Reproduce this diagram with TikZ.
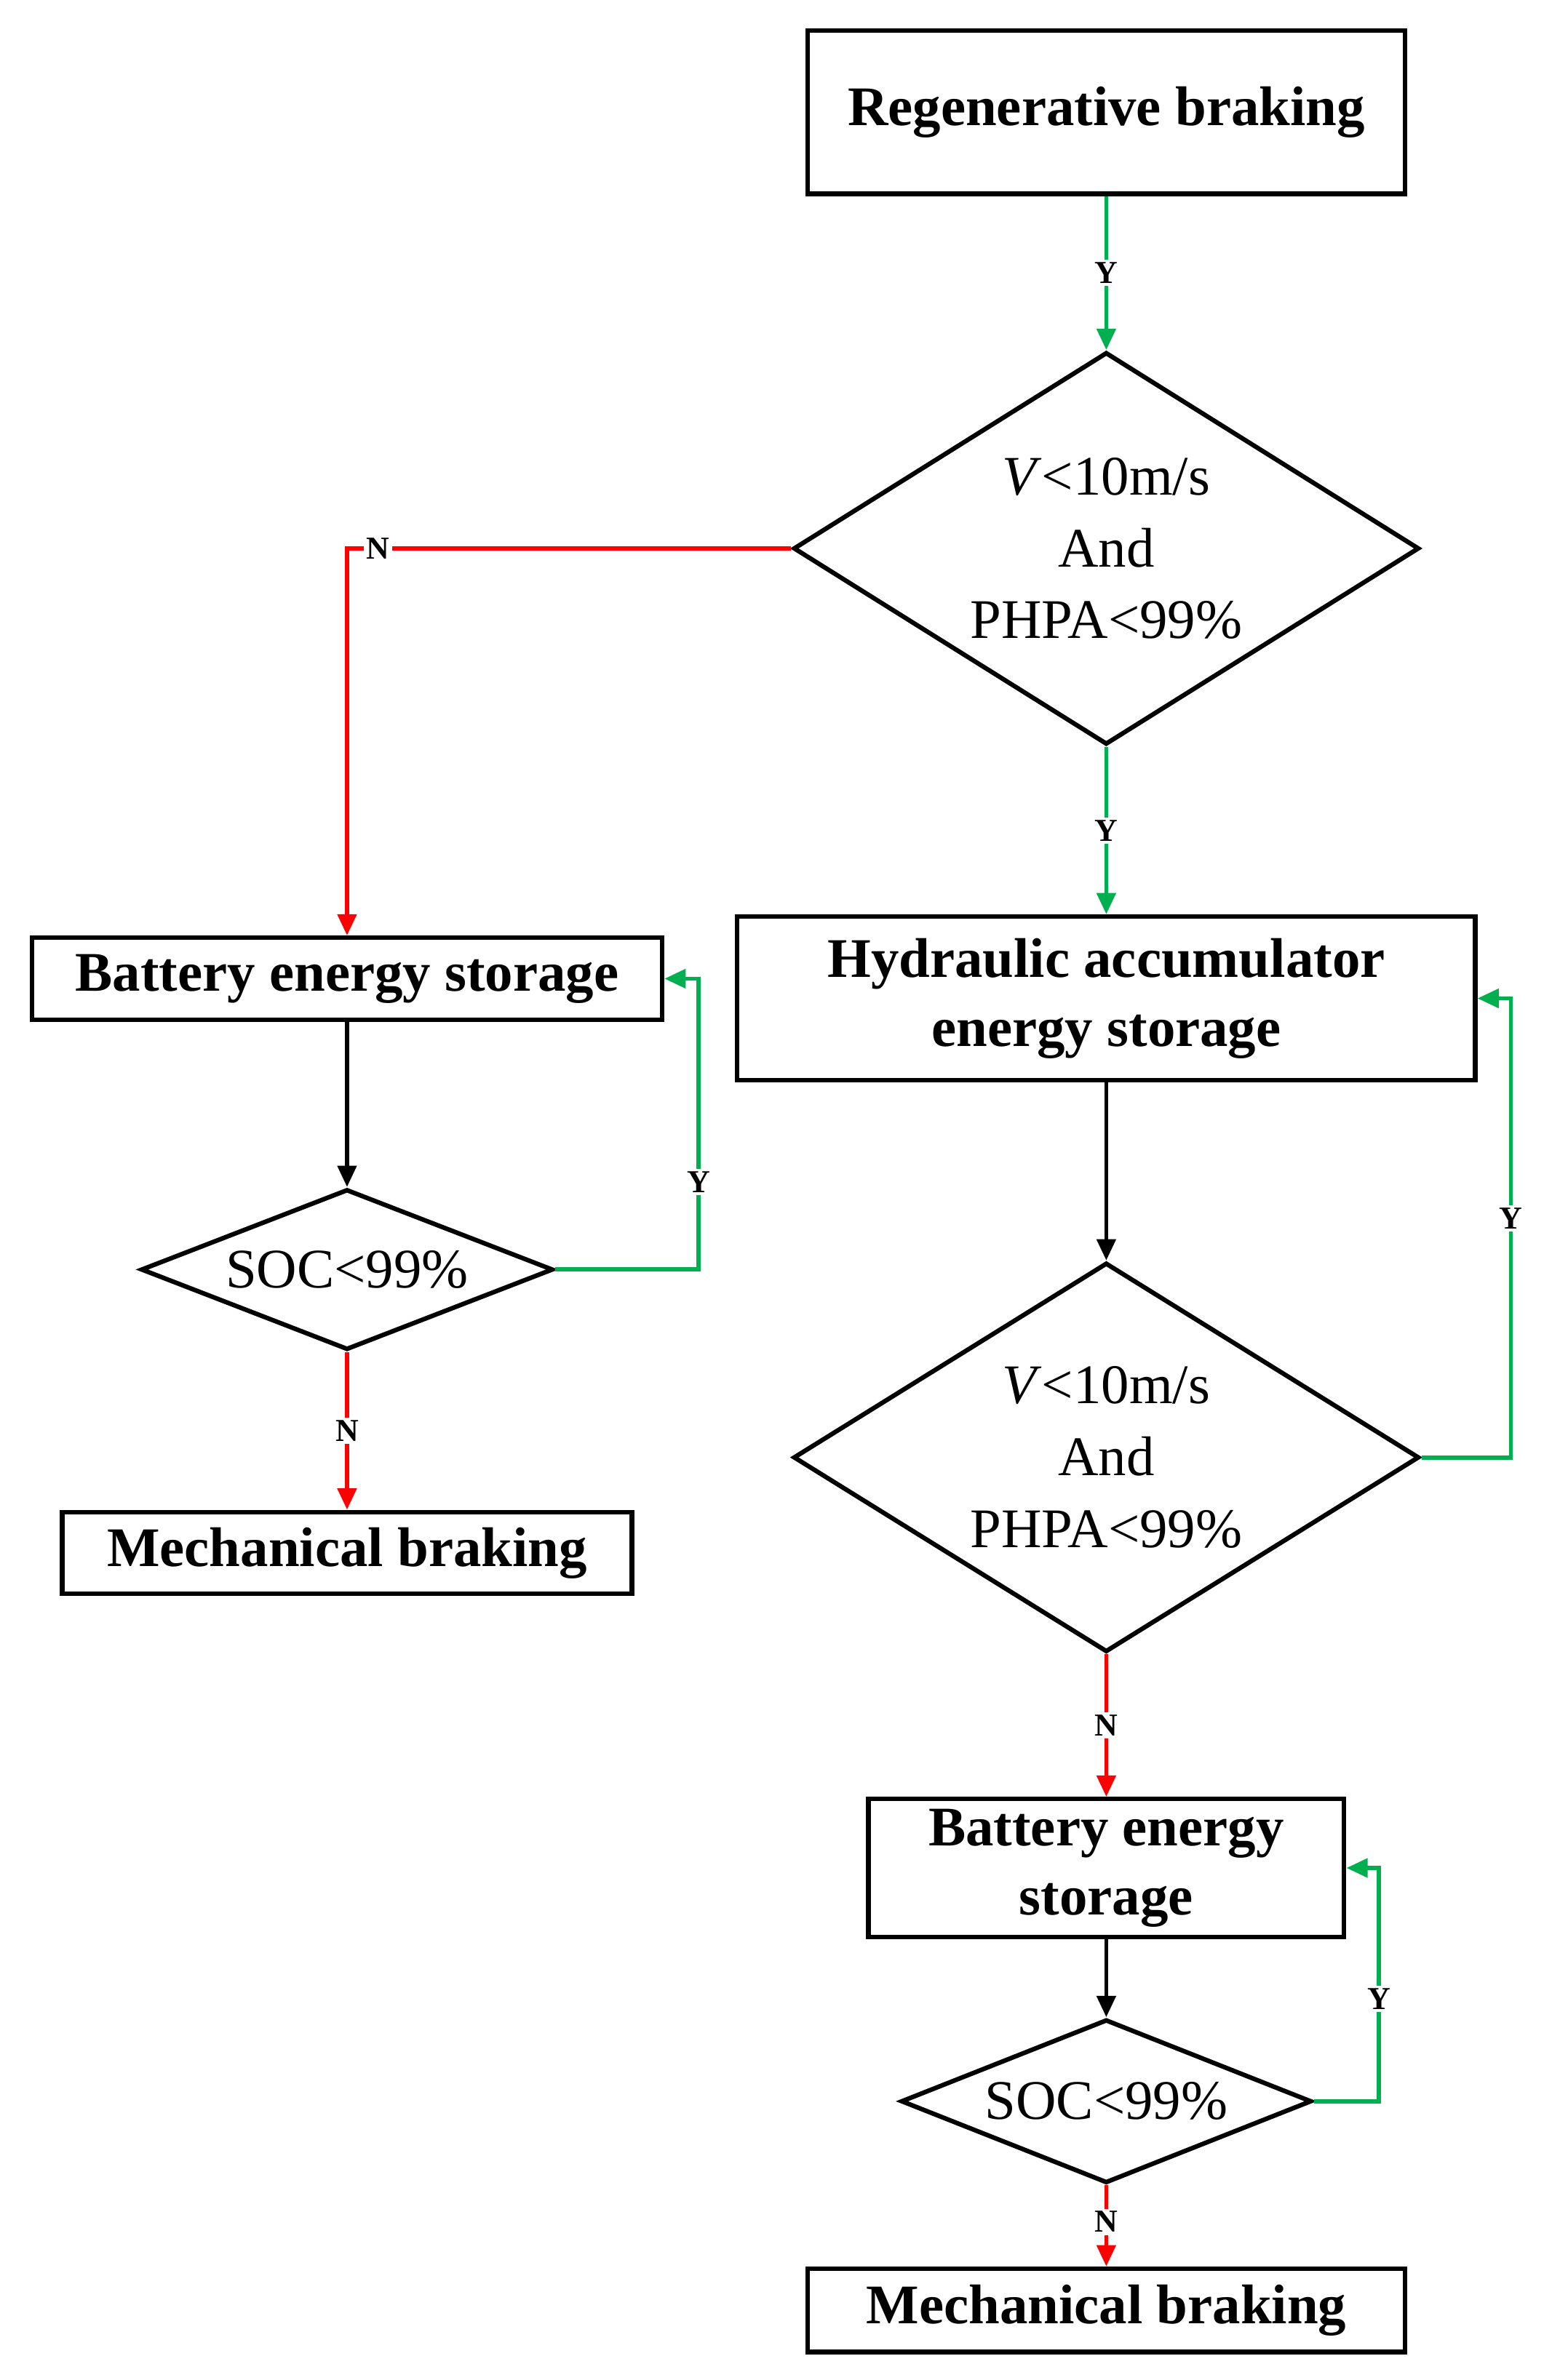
\documentclass[tikz,border=0pt]{standalone}
\usepackage{fontspec}
\setmainfont{Liberation Serif}
\usetikzlibrary{shapes.geometric,arrows.meta}
\definecolor{gr}{RGB}{0,176,80}
\definecolor{rd}{RGB}{255,0,0}
\begin{document}
\begin{tikzpicture}[x=0.02cm,y=-0.02cm,
 box/.style={draw,line width=1.7pt,font=\bfseries\fontsize{21}{26}\selectfont,align=center,inner sep=0pt},
 dia/.style={draw,diamond,line width=1.7pt,font=\fontsize{21}{27}\selectfont,align=center,inner sep=0pt},
 lab/.style={fill=white,text=black,font=\bfseries\fontsize{12}{13}\selectfont,inner sep=1pt},
 ar/.style={line width=1.6pt,-{Triangle[length=8pt,width=7pt]}}]
\useasboundingbox (0,0) rectangle (1024,1571);
\node[box,minimum width=7.88cm,minimum height=2.16cm] (reg) at (730,74) {Regenerative braking};
\node[dia,shape aspect=1.6,minimum width=8.26cm,minimum height=5.18cm] (d1) at (730,362) {\textit{V}<10m/s\\And\\PHPA<99\%};
\node[box,minimum width=9.74cm,minimum height=2.16cm] (hyd) at (730,659) {Hydraulic accumulator\\energy storage};
\node[dia,shape aspect=1.6,minimum width=8.26cm,minimum height=5.14cm] (d2) at (730,962) {\textit{V}<10m/s\\And\\PHPA<99\%};
\node[box,minimum width=6.28cm,minimum height=1.82cm] (bat2) at (730,1233) {Battery energy\\storage};
\node[dia,shape aspect=2.5,minimum width=5.42cm,minimum height=2.16cm] (s2) at (730,1387) {SOC<99\%};
\node[box,minimum width=7.88cm,minimum height=1.1cm] (mech2) at (730,1525) {Mechanical braking};
\node[box,minimum width=8.32cm,minimum height=1.08cm] (bat1) at (229,646) {Battery energy storage};
\node[dia,shape aspect=2.5,minimum width=5.44cm,minimum height=2.12cm] (s1) at (229,838) {SOC<99\%};
\node[box,minimum width=7.52cm,minimum height=1.08cm] (mech1) at (229,1025) {Mechanical braking};
\coordinate (c1) at (229,362);
\coordinate (c2) at (461,838);
\coordinate (c3) at (461,646);
\coordinate (c4) at (997,962);
\coordinate (c5) at (997,659);
\coordinate (c6) at (910,1387);
\coordinate (c7) at (910,1233);
\draw[ar,gr] (reg) -- node[lab]{Y} (d1);
\draw[ar,gr] (d1) -- node[lab]{Y} (hyd);
\draw[ar] (hyd) -- (d2);
\draw[ar,rd] (d2) -- node[lab]{N} (bat2);
\draw[ar] (bat2) -- (s2);
\draw[ar,rd] (s2) -- node[lab,pos=0.45]{N} (mech2);
\draw[ar,rd] (d1.west) -- node[lab,pos=0.93]{N} (c1) -- (bat1);
\draw[ar] (bat1) -- (s1);
\draw[ar,rd] (s1) -- node[lab]{N} (mech1);
\draw[ar,gr] (s1.east) -- (c2) -- node[lab,pos=0.3]{Y} (c3) -- (bat1.east);
\draw[ar,gr] (d2.east) -- (c4) -- node[lab,pos=0.52]{Y} (c5) -- (hyd.east);
\draw[ar,gr] (s2.east) -- (c6) -- node[lab,pos=0.44]{Y} (c7) -- (bat2.east);
\end{tikzpicture}
\end{document}
